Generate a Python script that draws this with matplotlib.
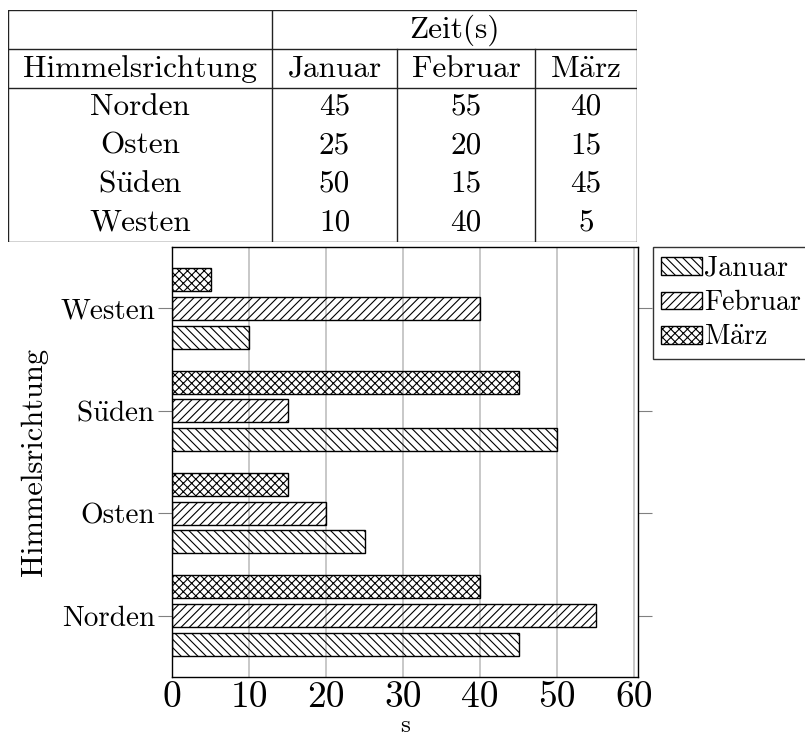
import numpy as np
import matplotlib
matplotlib.use("Agg")
import matplotlib.pyplot as plt

plt.rcParams['font.family'] = ['cmr10', 'DejaVu Serif']
plt.rcParams['mathtext.fontset'] = 'cm'
plt.rcParams['axes.formatter.use_mathtext'] = True
plt.rcParams['hatch.linewidth'] = 0.8

# data
directions = ["Norden", "Osten", "Süden", "Westen"]
months = ["Januar", "Februar", "März"]
januar = [45, 25, 50, 10]
februar = [55, 20, 15, 40]
maerz = [40, 15, 45, 5]
hatches = ["\\\\\\\\", "////", "xxxx"]
x_ticks = [0, 10, 20, 30, 40, 50, 60]


def tex(s):
    # cmr10 has no umlauts, build them with a math accent
    for ch, base in (("ä", "a"), ("ü", "u"), ("ö", "o")):
        s = s.replace(ch, r"$\ddot{\mathrm{%s}}$" % base)
    return s


fig = plt.figure(figsize=(8.05, 7.43), dpi=100)

# --- table on top ---
W, H = 805, 743
tx0, ty0, tx1, ty1 = 8, 10, 637, 242
tax = fig.add_axes([tx0 / W, 1 - ty1 / H, (tx1 - tx0) / W, (ty1 - ty0) / H])
tax.set_xlim(tx0, tx1)
tax.set_ylim(ty1, ty0)
tax.axis("off")
col_edges = [tx0, 272, 397, 535, tx1]
lc = "#222222"
lw = 1.0
tax.plot([tx0, tx1, tx1, tx0, tx0], [ty0, ty0, ty1, ty1, ty0], color=lc, lw=lw)
tax.plot([tx0, tx1], [49, 49], color=lc, lw=lw)
tax.plot([tx0, tx1], [88, 88], color=lc, lw=lw)
tax.plot([col_edges[1]] * 2, [ty0, ty1], color=lc, lw=lw)
for cx in col_edges[2:4]:
    tax.plot([cx, cx], [49, ty1], color=lc, lw=lw)

fs_tab = 22.5
tax.text((col_edges[1] + tx1) / 2, 30, "Zeit(s)", ha="center", va="center", fontsize=fs_tab)
header = ["Himmelsrichtung"] + months
for i, h in enumerate(header):
    tax.text((col_edges[i] + col_edges[i + 1]) / 2, 69, tex(h), ha="center", va="center",
             fontsize=fs_tab)
cols = [directions, januar, februar, maerz]
for r in range(len(directions)):
    yy = 107 + r * 38.5
    for i, col in enumerate(cols):
        tax.text((col_edges[i] + col_edges[i + 1]) / 2, yy, tex(str(col[r])),
                 ha="center", va="center", fontsize=fs_tab)

# --- bar chart ---
ax = fig.add_axes([172 / W, 1 - 677 / H, (638 - 172) / W, (677 - 247) / H])
y = np.arange(len(directions))
off = 0.28
h = 0.225
series = [januar, februar, maerz]
for k, (vals, name, hat) in enumerate(zip(series, months, hatches)):
    ax.barh(y + (k - 1) * off, vals, height=h, facecolor="none", edgecolor="black",
            linewidth=1.0, hatch=hat, label=tex(name), zorder=3)

ax.set_xlim(0, 60.5)
ax.set_ylim(-0.6, 3.6)
ax.set_xticks(x_ticks)
ax.set_xticklabels([str(v) for v in x_ticks], fontsize=27)
ax.set_yticks(y)
ax.set_yticklabels([tex(d) for d in directions], fontsize=21)
ax.xaxis.grid(True, color="#bfbfbf", linewidth=1.2, zorder=1)
ax.set_axisbelow(True)
ax.tick_params(axis="x", length=0, pad=3)
ax.tick_params(axis="y", which="both", direction="out", length=10, width=0.8,
               color="#808080", left=True, right=True, pad=2)
for s in ax.spines.values():
    s.set_linewidth(1.0)
ax.set_xlabel("s", fontsize=18, labelpad=0)
ax.set_ylabel("Himmelsrichtung", fontsize=22, labelpad=9)

leg = ax.legend(loc="upper left", bbox_to_anchor=(1.032, 1.0), borderaxespad=0,
                fontsize=20, fancybox=False, edgecolor="#333333", framealpha=1,
                handlelength=1.45, handleheight=0.6, handletextpad=0.1,
                labelspacing=0.3, borderpad=0.3)
leg.get_frame().set_linewidth(1.0)

fig.savefig("out.png", dpi=100)
